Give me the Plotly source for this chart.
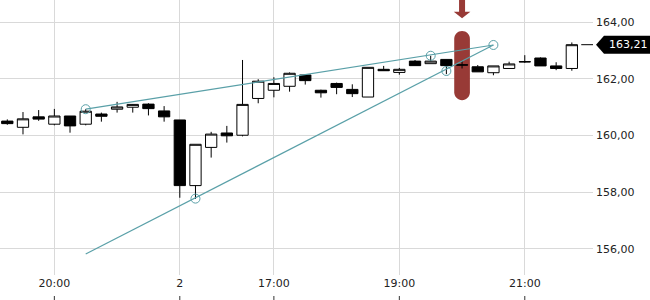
import plotly.graph_objects as go

# ---- data ----
times = ["19:15", "19:30", "19:45", "20:00", "20:15", "20:30", "20:45", "21:00", "21:15", "21:30",
         "21:45", "00:00", "00:15", "00:30", "00:45", "16:45", "17:00", "17:15", "17:30", "17:45",
         "18:00", "18:15", "18:30", "18:45", "19:00", "19:15", "19:30", "19:45", "20:00", "20:15",
         "20:30", "20:45", "21:00", "21:15", "21:30", "21:45", "22:00"]
x_idx = list(range(37))
opens = [160.51, 160.29, 160.66, 160.40, 160.69, 160.40, 160.76, 160.93, 161.00, 161.11,
         160.87, 160.55, 158.23, 159.58, 160.09, 160.01, 161.31, 161.60, 161.74, 162.14,
         161.60, 161.84, 161.63, 161.36, 162.34, 162.23, 162.63, 162.54, 162.69, 162.50,
         162.43, 162.22, 162.37, 162.60, 162.74, 162.46, 162.37]
highs = [160.57, 160.83, 160.90, 160.94, 160.69, 160.93, 160.81, 161.19, 161.11, 161.14,
         161.04, 160.55, 159.69, 160.13, 160.34, 162.67, 161.99, 162.06, 162.23, 162.16,
         161.62, 161.87, 161.81, 162.41, 162.46, 162.39, 162.67, 162.82, 162.69, 162.64,
         162.49, 162.46, 162.61, 162.84, 162.76, 162.59, 163.29]
lows = [160.38, 160.04, 160.52, 160.36, 160.10, 160.36, 160.49, 160.81, 160.81, 160.71,
        160.49, 157.80, 157.76, 159.22, 159.75, 159.97, 161.14, 161.35, 161.55, 161.80,
        161.34, 161.46, 161.36, 161.36, 162.29, 162.15, 162.47, 162.54, 162.17, 162.37,
        162.25, 162.13, 162.37, 162.57, 162.46, 162.31, 162.29]
closes = [160.42, 160.59, 160.58, 160.69, 160.34, 160.86, 160.68, 161.01, 161.10, 160.95,
          160.66, 158.23, 159.69, 160.05, 159.99, 161.10, 161.92, 161.84, 162.20, 161.94,
          161.51, 161.70, 161.48, 162.41, 162.29, 162.34, 162.47, 162.63, 162.47, 162.49,
          162.25, 162.46, 162.53, 162.61, 162.46, 162.37, 163.21]

tick_idx = [3, 11, 17, 25, 33]
tick_text = ["20:00", "2", "17:00", "19:00", "21:00"]

line1_x = [5, 31]
line1_y = [160.93, 163.20]
line2_x = [5, 31]
line2_y = [155.81, 163.20]
pts_x = [5, 12, 27, 28, 31]
pts_y = [160.93, 157.77, 162.82, 162.28, 163.20]

highlight_idx = 29
highlight_top = 163.69
highlight_bottom = 161.25

TEAL = "#5aa0a8"
RED = "#983a36"
GRID = "#d9d9d9"
FONT = dict(family="DejaVu Sans", size=11, color="#222222")

X_RANGE = [-0.466, 37.35]
Y_RANGE = [155.07, 164.79]
PLOT_W = 593
PLOT_H = 275

fig = go.Figure()

fig.add_trace(go.Candlestick(
    x=x_idx, open=opens, high=highs, low=lows, close=closes,
    increasing=dict(fillcolor="white", line=dict(color="black", width=1)),
    decreasing=dict(fillcolor="black", line=dict(color="black", width=1)),
    whiskerwidth=0, showlegend=False, hoverinfo="skip",
))

for lx, ly in [(line1_x, line1_y), (line2_x, line2_y)]:
    fig.add_trace(go.Scatter(x=lx, y=ly, mode="lines",
                             line=dict(color=TEAL, width=1.2),
                             showlegend=False, hoverinfo="skip"))
fig.add_trace(go.Scatter(x=pts_x, y=pts_y, mode="markers",
                         marker=dict(symbol="circle-open", size=9,
                                     color=TEAL, line=dict(width=1)),
                         showlegend=False, hoverinfo="skip"))

shapes = []
# highlight rounded bar
px_per_x = PLOT_W / (X_RANGE[1] - X_RANGE[0])
px_per_y = PLOT_H / (Y_RANGE[1] - Y_RANGE[0])
hx0, hx1 = highlight_idx - 0.5, highlight_idx + 0.5
rx = 0.5
ry = (0.5 * px_per_x) / px_per_y
k = 0.5523
t, b = highlight_top, highlight_bottom
path = (f"M {hx0},{t-ry} "
        f"C {hx0},{t-ry+ry*k} {highlight_idx-rx*k},{t} {highlight_idx},{t} "
        f"C {highlight_idx+rx*k},{t} {hx1},{t-ry+ry*k} {hx1},{t-ry} "
        f"L {hx1},{b+ry} "
        f"C {hx1},{b+ry-ry*k} {highlight_idx+rx*k},{b} {highlight_idx},{b} "
        f"C {highlight_idx-rx*k},{b} {hx0},{b+ry-ry*k} {hx0},{b+ry} Z")
shapes.append(dict(type="path", path=path, xref="x", yref="y",
                   fillcolor=RED, line=dict(width=0), layer="between"))

# arrow above highlight
sw = 3 / px_per_x
hw = 8.3 / px_per_x
y_top = Y_RANGE[1] + 0.1
y_head = Y_RANGE[1] - 11.7 / px_per_y
y_tip = Y_RANGE[1] - 18.3 / px_per_y
hi = highlight_idx
arrow = (f"M {hi-sw},{y_top} L {hi+sw},{y_top} L {hi+sw},{y_head} L {hi+hw},{y_head} "
         f"L {hi},{y_tip} L {hi-hw},{y_head} L {hi-sw},{y_head} Z")
shapes.append(dict(type="path", path=arrow, xref="x", yref="y",
                   fillcolor=RED, line=dict(width=0), layer="above"))

# last price line
last = closes[-1]
shapes.append(dict(type="line", xref="x", yref="y", x0=x_idx[-1] + 0.6, x1=X_RANGE[1],
                   y0=last, y1=last, line=dict(color="black", width=1)))

# price label box (pentagon)
dy = 9 / px_per_y
p_tip = 596 / PLOT_W
p_l = 604 / PLOT_W
p_r = 651 / PLOT_W
label_path = (f"M {p_tip},{last} L {p_l},{last+dy} L {p_r},{last+dy} "
              f"L {p_r},{last-dy} L {p_l},{last-dy} Z")
shapes.append(dict(type="path", path=label_path, xref="paper", yref="y",
                   fillcolor="black", line=dict(width=0), layer="above"))

# small bottom tick marks
for tv in tick_idx:
    shapes.append(dict(type="line", xref="x", yref="paper", x0=tv, x1=tv,
                       y0=-21 / PLOT_H, y1=-25 / PLOT_H,
                       line=dict(color="#333333", width=1)))

fig.update_layout(
    width=650, height=300,
    margin=dict(l=0, r=650 - PLOT_W, t=0, b=300 - PLOT_H),
    paper_bgcolor="white", plot_bgcolor="white",
    separators=",.",
    font=FONT,
    boxgap=0.1,
    boxgroupgap=0.2,
    shapes=shapes,
    annotations=[dict(xref="paper", yref="y", x=(p_l + p_r) / 2 + 0.001, y=last,
                      text=f"{last:.2f}".replace(".", ","), showarrow=False,
                      font=dict(family="DejaVu Sans", size=11, color="white"),
                      xanchor="center", yanchor="middle")],
    xaxis=dict(range=X_RANGE, tickvals=tick_idx, ticktext=tick_text,
               showgrid=True, gridcolor=GRID, gridwidth=1, zeroline=False,
               showline=False, ticks="", rangeslider=dict(visible=False),
               tickfont=FONT, fixedrange=True),
    yaxis=dict(range=Y_RANGE, side="right", tickvals=[156, 158, 160, 162, 164],
               tickformat=".2f", tickprefix="- ", showgrid=True, gridcolor=GRID,
               gridwidth=1, zeroline=False, showline=False, ticks="",
               tickfont=FONT, ticklabelstandoff=2, fixedrange=True),
)

fig.write_html("out.html")
